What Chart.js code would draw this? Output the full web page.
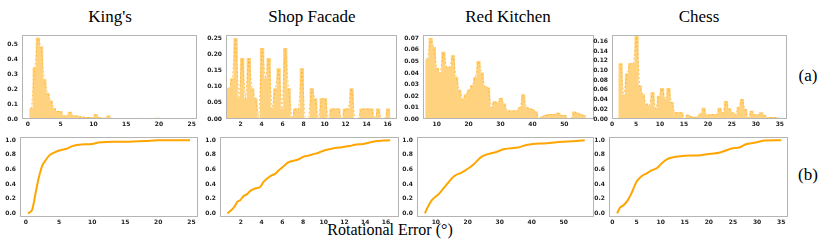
<!DOCTYPE html>
<html lang="en">
<head>
    <meta charset="UTF-8">
    <title>Rotational Error</title>
    <style>
        body {
            margin: 0;
            padding: 0;
            background: #fff;
            width: 830px;
            height: 240px;
            position: relative;
            overflow: hidden;
        }

        canvas {
            position: absolute;
        }

        .label {
            position: absolute;
            font-family: 'Liberation Serif', 'DejaVu Serif', serif;
            font-size: 17px;
            line-height: 1;
            color: #000;
            white-space: nowrap;
            transform: translateX(-50%);
        }
    </style>
</head>
<body>
<div class="label" style="left:110px; top:8px;">King's</div>
<div class="label" style="left:312px; top:8px;">Shop Facade</div>
<div class="label" style="left:508px; top:8px;">Red Kitchen</div>
<div class="label" style="left:699px; top:8px;">Chess</div>
<div class="label" style="left:808px; top:67px;">(a)</div>
<div class="label" style="left:808px; top:166px;">(b)</div>
<div class="label" style="left:390px; top:222px; font-size:16px;">Rotational Error (°)</div>

<canvas id="kingsHist"></canvas>
<canvas id="shopHist"></canvas>
<canvas id="redHist"></canvas>
<canvas id="chessHist"></canvas>
<canvas id="kingsCdf"></canvas>
<canvas id="shopCdf"></canvas>
<canvas id="redCdf"></canvas>
<canvas id="chessCdf"></canvas>

<script src="https://cdn.jsdelivr.net/npm/chart.js"></script>
<script>
    // histogram bins (first bin edge, bin width) and bin heights
    const kingsBinStart = 0.3, kingsBinWidth = 0.49;
    const kingsHist = [0.07, 0.34, 0.54, 0.48, 0.26, 0.17, 0.12, 0.07, 0.05, 0.05,
        0.02, 0.02, 0.045, 0.02, 0.02, 0.015, 0.012, 0.01, 0.01, 0.008,
        0.03, 0.01, 0.005, 0.005, 0.02, 0.004, 0, 0.002, 0, 0.002,
        0, 0, 0.004, 0.002, 0.004, 0.003, 0, 0, 0, 0.005,
        0.004, 0, 0, 0, 0, 0, 0, 0, 0, 0.003];

    const shopBinStart = 0.72, shopBinWidth = 0.316;
    const shopHist = [0.094, 0.125, 0.25, 0.0625, 0.1875, 0.0625, 0.1875, 0.094, 0.0625, 0,
        0.219, 0.125, 0.1875, 0.031, 0.094, 0.156, 0.031, 0.219, 0.094, 0,
        0.031, 0.031, 0.156, 0, 0, 0.094, 0.0625, 0, 0.0625, 0.0625,
        0, 0.031, 0.031, 0.031, 0, 0.031, 0.031, 0.094, 0, 0,
        0.031, 0.031, 0.031, 0.031, 0, 0.031, 0, 0, 0.031];

    const redBinStart = 6.6, redBinWidth = 1.0;
    const redHist = [0.052, 0.070, 0.062, 0.044, 0.040, 0.058, 0.045, 0.045, 0.055, 0.036,
        0.025, 0.017, 0.021, 0.025, 0.029, 0.036, 0.050, 0.040, 0.028, 0.027,
        0.010, 0.015, 0.014, 0.018, 0.013, 0.007, 0.007, 0.007, 0.007, 0.010,
        0.021, 0.010, 0.009, 0.008, 0.006, 0.0005, 0.002, 0.003, 0.004, 0.004,
        0.004, 0.005, 0.003, 0.003, 0.0005, 0, 0.006, 0.005, 0.004, 0.003];

    const chessBinStart = 1.46, chessBinWidth = 0.666;
    const chessHist = [0.114, 0.048, 0.093, 0.114, 0.114, 0.17, 0.068, 0.050, 0.031, 0.027,
        0.054, 0.021, 0.047, 0.063, 0.040, 0.063, 0.034, 0.013, 0.013, 0.013,
        0, 0.008, 0.005, 0.003, 0.004, 0.010, 0.022, 0.007, 0.009, 0.009,
        0.009, 0.022, 0.013, 0.036, 0.021, 0.013, 0.009, 0.024, 0.040, 0.020,
        0.002, 0.016, 0.009, 0.008, 0.013, 0.007, 0.002, 0.003, 0.003, 0.002];

    // cumulative curves: error (deg) and fraction
    const kingsCdfX = [0.3, 0.9, 1.5, 2.0, 2.5, 3.0, 3.5, 4.0, 5.0, 6.0, 7.0, 8.0, 10.0, 11.0, 13.0, 15.0, 18.0, 20.0, 24.8];
    const kingsCdfY = [0.0, 0.04, 0.30, 0.51, 0.66, 0.73, 0.79, 0.82, 0.86, 0.88, 0.92, 0.94, 0.95, 0.97, 0.98, 0.98, 0.99, 1.0, 1.0];

    const shopCdfX = [0.71, 1.13, 1.39, 1.68, 1.94, 2.26, 2.58, 2.96, 3.38, 3.86, 4.19, 4.67, 4.99, 5.31, 5.63, 6.1, 6.5, 6.76,
        7.4, 7.72, 8.1, 8.53, 9.0, 9.5, 10.04, 10.78, 11.74, 12.5, 13.0, 13.8, 14.6, 15.1, 15.76, 16.4];
    const shopCdfY = [0.0, 0.05, 0.09, 0.16, 0.18, 0.235, 0.26, 0.31, 0.34, 0.36, 0.43, 0.49, 0.52, 0.54, 0.585, 0.64, 0.69, 0.71,
        0.73, 0.75, 0.78, 0.79, 0.81, 0.83, 0.86, 0.885, 0.905, 0.92, 0.94, 0.95, 0.975, 0.99, 0.995, 1.0];

    const redCdfX = [6.6, 7.4, 8.95, 11.05, 13.1, 15.8, 17.9, 20.0, 22.05, 24.15, 26.2, 28.9, 31.5, 35.7, 38.3, 40.4, 44.6, 49.8, 53.0, 56.6];
    const redCdfY = [0.0, 0.08, 0.19, 0.27, 0.38, 0.51, 0.555, 0.61, 0.68, 0.77, 0.81, 0.84, 0.88, 0.90, 0.935, 0.95, 0.96, 0.98, 0.985, 1.0];

    const chessCdfX = [1.0, 1.6, 2.3, 3.1, 4.0, 4.7, 5.2, 6.1, 7.2, 8.2, 9.25, 10.3, 11.3, 12.4, 14.1, 16.2, 18.3, 20.4, 22.1, 23.5,
        24.9, 26.3, 27.7, 29.4, 31.5, 35.0];
    const chessCdfY = [0.0, 0.08, 0.11, 0.17, 0.28, 0.39, 0.45, 0.51, 0.55, 0.59, 0.62, 0.69, 0.74, 0.765, 0.78, 0.79, 0.795, 0.815, 0.83, 0.86,
        0.89, 0.90, 0.945, 0.965, 0.995, 1.0];

    // tick labels
    const kingsXTicks = [0, 5, 10, 15, 20, 25];
    const shopXTicks = [2, 4, 6, 8, 10, 12, 14, 16];
    const redXTicks = [10, 20, 30, 40, 50];
    const chessXTicks = [0, 5, 10, 15, 20, 25, 30, 35];
    const kingsYTicks = [0.0, 0.1, 0.2, 0.3, 0.4, 0.5];
    const shopYTicks = [0.00, 0.05, 0.10, 0.15, 0.20, 0.25];
    const redYTicks = [0.00, 0.01, 0.02, 0.03, 0.04, 0.05, 0.06, 0.07];
    const chessYTicks = [0.00, 0.02, 0.04, 0.06, 0.08, 0.10, 0.12, 0.14, 0.16];
    const cdfYTicks = [0.0, 0.2, 0.4, 0.6, 0.8, 1.0];

    const ORANGE = '#FFA500';
    const BAR_FILL = '#FFD27F'; // orange at half opacity on white
    const Y_AXIS_W = 30, PAD_T = 3, PAD_R = 3, X_AXIS_H = 12;

    const framePlugin = {
        id: 'frame',
        afterDraw(chart) {
            const a = chart.chartArea, ctx = chart.ctx;
            ctx.save();
            ctx.strokeStyle = '#b4b4b4';
            ctx.lineWidth = 1;
            ctx.strokeRect(Math.round(a.left) + 0.5, Math.round(a.top) + 0.5,
                Math.round(a.right - a.left) - 1, Math.round(a.bottom - a.top) - 1);
            ctx.restore();
        }
    };

    function axis(min, max, ticks, decimals, isY) {
        return {
            type: 'linear',
            min: min,
            max: max,
            offset: false,
            grid: {display: false, drawTicks: false},
            border: {display: false},
            afterBuildTicks: s => { s.ticks = ticks.map(v => ({value: v})); },
            afterFit: s => { if (isY) s.width = Y_AXIS_W; else s.height = X_AXIS_H; },
            ticks: {
                autoSkip: false,
                maxRotation: 0,
                padding: isY ? 4 : 2,
                color: '#222',
                font: {family: 'DejaVu Sans', size: 6, weight: 'bold'},
                callback: v => decimals === null ? String(v) : Number(v).toFixed(decimals)
            }
        };
    }

    function place(id, box) {
        // box = [left, top, right, bottom] of the plot frame on the page
        const c = document.getElementById(id);
        const w = box[2] - box[0] + Y_AXIS_W + PAD_R;
        const h = box[3] - box[1] + PAD_T + X_AXIS_H;
        c.width = w;
        c.height = h;
        c.style.left = (box[0] - Y_AXIS_W) + 'px';
        c.style.top = (box[1] - PAD_T) + 'px';
        return c;
    }

    function baseOptions(xs, ys) {
        return {
            responsive: false,
            animation: false,
            devicePixelRatio: 1,
            layout: {padding: {top: PAD_T, right: PAD_R, left: 0, bottom: 0}},
            plugins: {legend: {display: false}, tooltip: {enabled: false}},
            scales: {x: xs, y: ys}
        };
    }

    function histChart(id, box, start, width, heights, xRange, xTicks, yMax, yTicks, yDec) {
        const pts = heights.map((v, i) => ({x: start + width * (i + 0.5), y: v}));
        new Chart(place(id, box), {
            type: 'bar',
            data: {
                datasets: [
                    {
                        type: 'line',
                        data: pts,
                        borderColor: ORANGE,
                        borderWidth: 0.6,
                        borderDash: [2, 2],
                        pointRadius: 0,
                        fill: false
                    },
                    {
                        type: 'bar',
                        data: pts,
                        backgroundColor: BAR_FILL,
                        borderWidth: 0,
                        inflateAmount: 0.5,
                        barPercentage: 1,
                        categoryPercentage: 1,
                        grouped: false
                    }
                ]
            },
            options: baseOptions(axis(xRange[0], xRange[1], xTicks, null, false),
                axis(0, yMax, yTicks, yDec, true)),
            plugins: [framePlugin]
        });
    }

    function cdfChart(id, box, xs, ys, xRange, xTicks) {
        new Chart(place(id, box), {
            type: 'line',
            data: {
                datasets: [{
                    data: xs.map((x, i) => ({x: x, y: ys[i]})),
                    borderColor: ORANGE,
                    borderWidth: 2,
                    pointRadius: 0,
                    tension: 0.3,
                    fill: false
                }]
            },
            options: baseOptions(axis(xRange[0], xRange[1], xTicks, null, false),
                axis(-0.05, 1.05, cdfYTicks, 1, true)),
            plugins: [framePlugin]
        });
    }

    histChart('kingsHist', [22, 30, 197, 119], kingsBinStart, kingsBinWidth, kingsHist, [-0.9, 25.8], kingsXTicks, 0.563, kingsYTicks, 1);
    histChart('shopHist', [226, 30, 397, 119], shopBinStart, shopBinWidth, shopHist, [0.6, 16.9], shopXTicks, 0.262, shopYTicks, 2);
    histChart('redHist', [423, 30, 594, 119], redBinStart, redBinWidth, redHist, [5.7, 59.3], redXTicks, 0.0733, redYTicks, 2);
    histChart('chessHist', [612, 30, 787, 119], chessBinStart, chessBinWidth, chessHist, [0.0, 36.5], chessXTicks, 0.174, chessYTicks, 2);

    cdfChart('kingsCdf', [20, 132, 198, 217], kingsCdfX, kingsCdfY, [-0.9, 26.0], kingsXTicks);
    cdfChart('shopCdf', [220, 132, 399, 217], shopCdfX, shopCdfY, [0.0, 17.25], shopXTicks);
    cdfChart('redCdf', [417, 132, 594, 217], redCdfX, redCdfY, [4.1, 59.5], redXTicks);
    cdfChart('chessCdf', [609, 132, 788, 217], chessCdfX, chessCdfY, [-0.7, 36.4], chessXTicks);
</script>
</body>
</html>
